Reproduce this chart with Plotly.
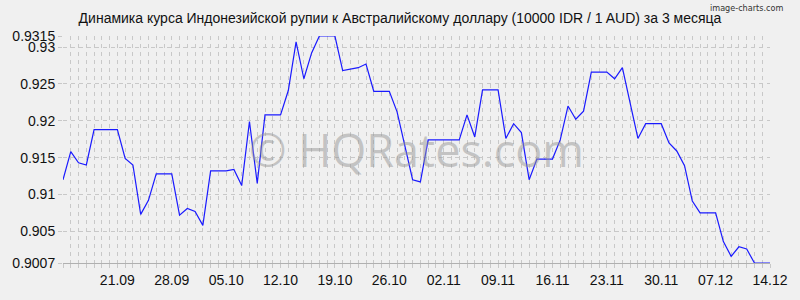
import pandas as pd
import plotly.graph_objects as go

start_date = "2025-09-14"
rates = [
    0.9120, 0.9158, 0.9143, 0.9140, 0.9188, 0.9188, 0.9188, 0.9188, 0.9149, 0.9140,
    0.9073, 0.9092, 0.9128, 0.9128, 0.9128, 0.9072, 0.9081, 0.9077, 0.9058, 0.9132,
    0.9132, 0.9132, 0.9134, 0.9112, 0.9199, 0.9115, 0.9208, 0.9208, 0.9208, 0.9241,
    0.9307, 0.9257, 0.9292, 0.9315, 0.9315, 0.9315, 0.9268, 0.9270, 0.9272, 0.9277,
    0.9240, 0.9240, 0.9240, 0.9212, 0.9167, 0.9120, 0.9117, 0.9174, 0.9174, 0.9174,
    0.9174, 0.9174, 0.9208, 0.9178, 0.9242, 0.9242, 0.9242, 0.9176, 0.9196, 0.9184,
    0.9120, 0.9148, 0.9148, 0.9148, 0.9174, 0.9220, 0.9202, 0.9213, 0.9266, 0.9266,
    0.9266, 0.9257, 0.9272, 0.9224, 0.9176, 0.9196, 0.9196, 0.9196, 0.9170, 0.9159,
    0.9139, 0.9091, 0.9075, 0.9075, 0.9075, 0.9036, 0.9016, 0.9029, 0.9026, 0.9007,
    0.9007, 0.9007,
]
dates = pd.date_range(start_date, periods=len(rates), freq="D")

x_tick_dates = ["2025-09-21", "2025-09-28", "2025-10-05", "2025-10-12", "2025-10-19",
                "2025-10-26", "2025-11-02", "2025-11-09", "2025-11-16", "2025-11-23",
                "2025-11-30", "2025-12-07", "2025-12-14"]
x_tick_labels = ["21.09", "28.09", "05.10", "12.10", "19.10", "26.10", "02.11",
                 "09.11", "16.11", "23.11", "30.11", "07.12", "14.12"]
y_tick_vals = [0.9007, 0.905, 0.91, 0.915, 0.92, 0.925, 0.93, 0.9315]
y_tick_labels = ["0.9007", "0.905", "0.91", "0.915", "0.92", "0.925", "0.93", "0.9315"]

title = "Динамика курса Индонезийской рупии к Австралийскому доллару (10000 IDR / 1 AUD) за 3 месяца"

fig = go.Figure()
fig.add_trace(go.Scatter(x=dates, y=rates, mode="lines",
                         line=dict(color="#1a1aff", width=1.2),
                         hoverinfo="skip"))

grid_col = "#c8c8c8"
fig.update_layout(
    width=800, height=300,
    margin=dict(l=60, r=20, t=36, b=34),
    paper_bgcolor="#f0f0f0", plot_bgcolor="#f0f0f0",
    showlegend=False,
    font=dict(family="Liberation Sans, Arial, sans-serif", size=14, color="#111111"),
    title=dict(text=title, x=0.5, xanchor="center", y=0.94, yanchor="middle",
               font=dict(size=14, color="#111111")),
    xaxis=dict(
        type="date",
        range=[dates[0], dates[-1]],
        tickvals=x_tick_dates, ticktext=x_tick_labels,
        ticks="outside", ticklen=4, tickcolor=grid_col,
        showgrid=True, gridcolor=grid_col, griddash="4px,4px", gridwidth=1,
        showline=True, linecolor="#b0b0b0", linewidth=1,
        zeroline=False,
        minor=dict(dtick=86400000, tick0=start_date, showgrid=True,
                   gridcolor=grid_col, griddash="4px,4px", gridwidth=1,
                   ticks="outside", ticklen=4, tickcolor=grid_col),
        tickfont=dict(size=14),
        fixedrange=True,
    ),
    yaxis=dict(
        range=[0.9007, 0.9315],
        tickvals=y_tick_vals, ticktext=y_tick_labels,
        ticks="outside", ticklen=4, tickcolor=grid_col,
        showgrid=True, gridcolor=grid_col, griddash="4px,4px", gridwidth=1,
        showline=False, zeroline=False,
        tickfont=dict(size=14),
        fixedrange=True,
    ),
)

fig.add_annotation(text="© HQRates.com", xref="paper", yref="paper",
                   x=0.5, y=0.5, xanchor="center", yanchor="middle",
                   showarrow=False,
                   font=dict(family="Open Sans, sans-serif", size=45,
                             color="rgba(150,150,150,0.5)"))
fig.add_annotation(text="image-charts.com", xref="paper", yref="paper",
                   x=1.021, y=1.122, xanchor="right", yanchor="middle",
                   showarrow=False,
                   font=dict(family="DejaVu Sans Condensed, DejaVu Sans, sans-serif",
                             size=9, color="#333333"))

fig.write_html("out.html")
